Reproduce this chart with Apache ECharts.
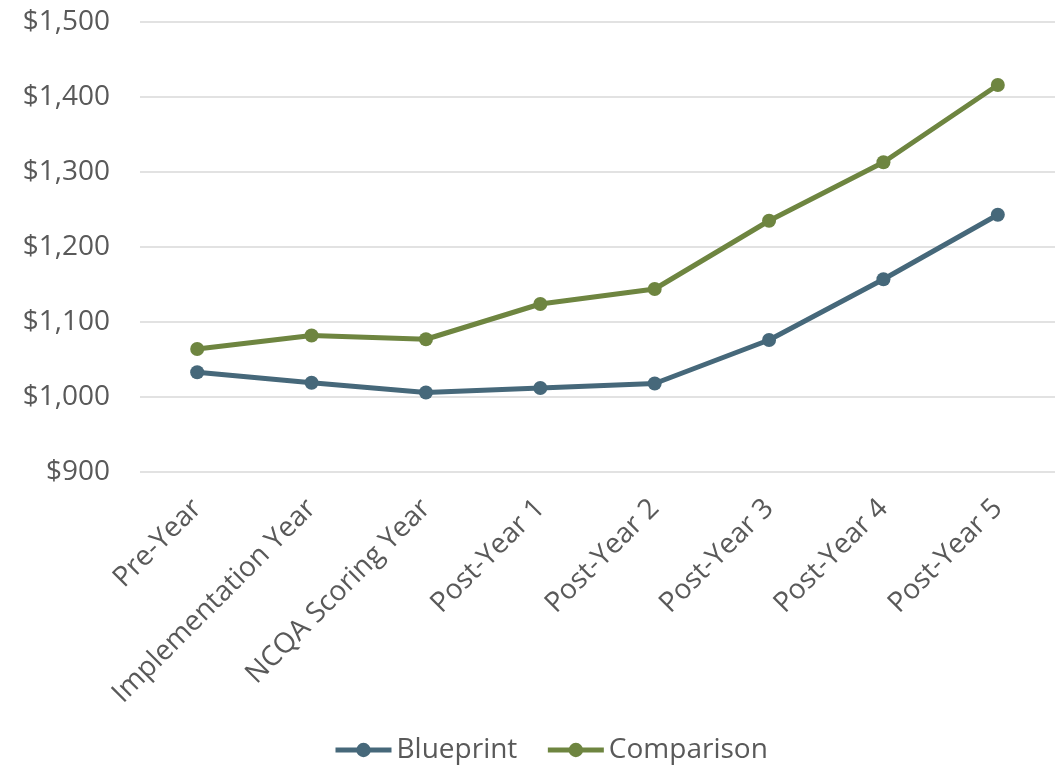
<!DOCTYPE html>
<html>
<head>
<meta charset="utf-8">
<script src="https://cdn.jsdelivr.net/npm/echarts@6/dist/echarts.min.js"></script>
<style>
html,body{margin:0;padding:0;background:#fff;}
#chart{width:1063px;height:770px;}
</style>
</head>
<body>
<div id="chart"></div>
<script>
const categories = ["Pre-Year","Implementation Year","NCQA Scoring Year","Post-Year 1","Post-Year 2","Post-Year 3","Post-Year 4","Post-Year 5"];
const blueprint = [1033, 1019, 1006, 1012, 1018, 1076, 1157, 1243];
const comparison = [1064, 1082, 1077, 1124, 1144, 1235, 1313, 1416];
const seriesNames = ["Blueprint", "Comparison"];
const yMin = 900, yMax = 1500, yStep = 100;

const FONT = '"Open Sans", sans-serif';
const TXT = '#595959';
const chart = echarts.init(document.getElementById('chart'));
chart.setOption({
  animation: false,
  textStyle: { fontFamily: FONT },
  grid: { left: 140, right: 8, top: 22, bottom: 298, containLabel: false },
  legend: {
    bottom: 1, left: 328,
    itemWidth: 56, itemHeight: 18, itemGap: 28, itemTextGap: 5,
    lineStyle: { width: 5 },
    textStyle: { color: TXT, fontSize: 28, fontFamily: FONT },
    data: seriesNames
  },
  xAxis: {
    type: 'category', data: categories, boundaryGap: true,
    axisLine: { show: false }, axisTick: { show: false },
    axisLabel: { rotate: 45, color: TXT, fontSize: 28, margin: 32, interval: 0, fontFamily: FONT }
  },
  yAxis: {
    type: 'value', min: yMin, max: yMax, interval: yStep,
    axisLine: { show: false }, axisTick: { show: false },
    splitLine: { lineStyle: { color: '#d9d9d9', width: 1.5 } },
    axisLabel: { color: TXT, fontSize: 28, margin: 30, fontFamily: FONT,
      formatter: v => '$' + v.toLocaleString('en-US') }
  },
  series: [
    { name: seriesNames[0], type: 'line', data: blueprint, symbol: 'circle', symbolSize: 14,
      lineStyle: { color: '#46687A', width: 5 }, itemStyle: { color: '#46687A' } },
    { name: seriesNames[1], type: 'line', data: comparison, symbol: 'circle', symbolSize: 14,
      lineStyle: { color: '#6E8540', width: 5 }, itemStyle: { color: '#6E8540' } }
  ]
});
</script>
</body>
</html>
